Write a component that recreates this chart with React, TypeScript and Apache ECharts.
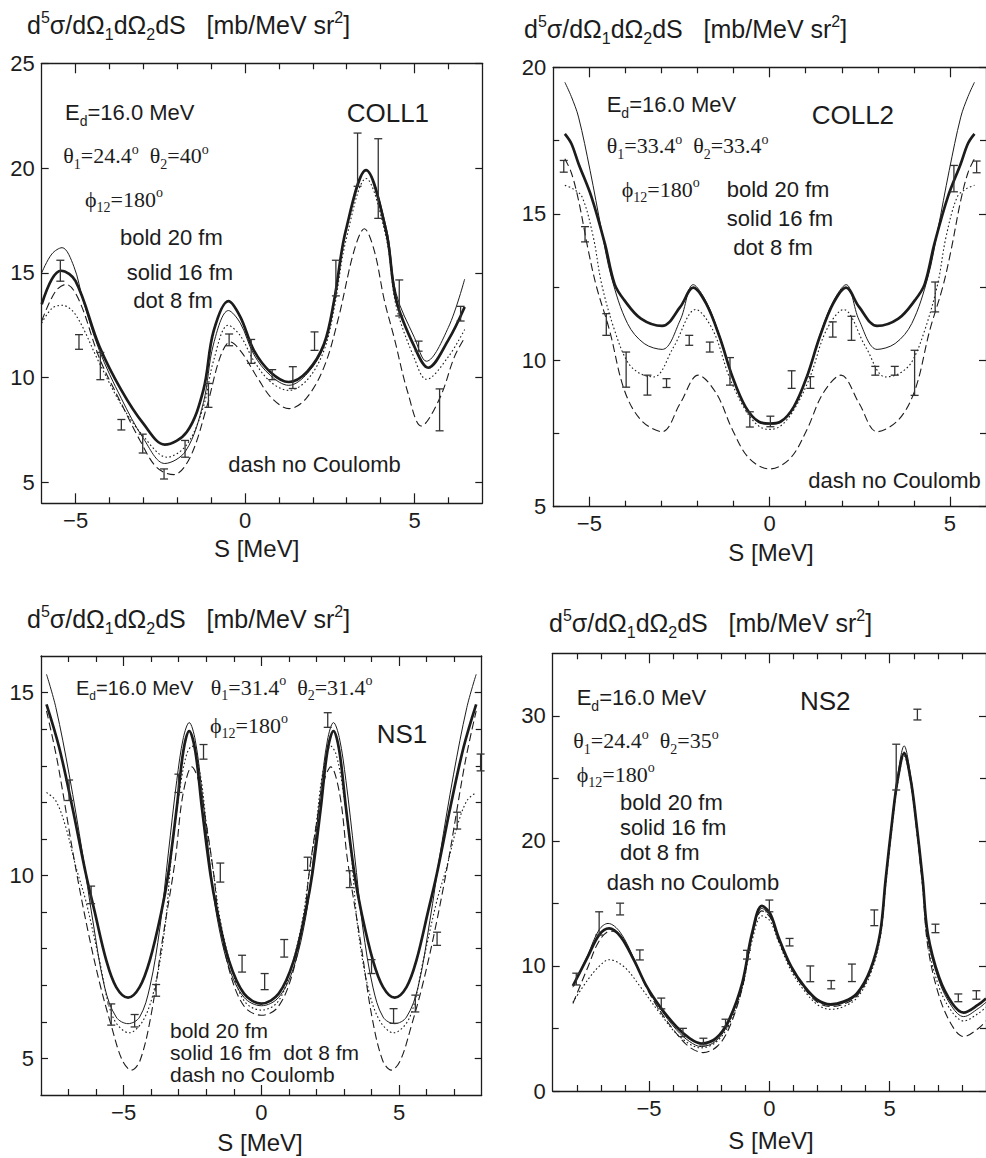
import React, { useEffect, useRef } from "react";
import * as echarts from "echarts";

// ================= COLL1 =================
const coll1XRange = [-6, 7];
const coll1YRange = [4, 25];
const coll1XMajor = [-5, 0, 5];
const coll1XMinor = [-4, -3, -2, -1, 1, 2, 3, 4, 6];
const coll1YMajor = [5, 10, 15, 20, 25];
const coll1YMinor: number[] = [];
const coll1Bold = [[-6, 13.5], [-5.7, 14.7], [-5.43, 15.1], [-5.0, 14.6], [-4.3, 11.5], [-3.65, 9.4], [-3.0, 7.8], [-2.37, 6.8], [-1.72, 7.4], [-1.23, 9.4], [-0.93, 12.2], [-0.49, 13.65], [-0.14, 12.9], [0.26, 11.3], [0.75, 10.26], [1.29, 9.79], [1.84, 10.3], [2.33, 11.6], [2.63, 13.7], [2.97, 17.0], [3.57, 19.9], [4.16, 17.0], [4.46, 13.7], [5.0, 11.46], [5.4, 10.47], [6.0, 11.8], [6.48, 13.37]];
const coll1Solid = [[-6, 15.0], [-5.7, 15.9], [-5.4, 16.2], [-5.05, 15.3], [-4.78, 13.7], [-4.3, 11.3], [-3.65, 9.0], [-3.0, 7.1], [-2.37, 5.9], [-1.75, 6.5], [-1.23, 8.8], [-0.93, 11.6], [-0.49, 13.2], [-0.14, 12.6], [0.26, 11.1], [0.75, 10.1], [1.29, 9.63], [1.84, 10.2], [2.33, 11.5], [2.63, 13.6], [2.97, 17.0], [3.57, 19.9], [4.16, 17.2], [4.46, 14.0], [5.0, 11.9], [5.35, 10.78], [6.0, 12.4], [6.48, 14.7]];
const coll1Dot = [[-6, 12.6], [-5.7, 13.3], [-5.4, 13.45], [-5.0, 13.0], [-4.3, 10.7], [-3.65, 8.7], [-3.0, 7.2], [-2.3, 6.2], [-1.72, 6.8], [-1.23, 8.6], [-0.93, 10.8], [-0.5, 12.5], [-0.14, 12.0], [0.26, 10.8], [0.75, 9.8], [1.29, 9.39], [1.84, 9.9], [2.33, 11.3], [2.63, 13.3], [2.97, 16.5], [3.57, 19.5], [4.16, 16.7], [4.46, 13.4], [5.0, 10.9], [5.35, 9.92], [6.0, 11.0], [6.48, 12.3]];
const coll1Dash = [[-6, 12.7], [-5.6, 14.1], [-5.28, 14.45], [-4.9, 13.7], [-4.29, 10.9], [-3.65, 8.76], [-3.1, 7.0], [-2.6, 5.7], [-2.1, 5.37], [-1.62, 6.2], [-1.13, 8.6], [-0.73, 11.0], [-0.44, 11.7], [-0.1, 11.2], [0.4, 9.9], [0.8, 9.0], [1.3, 8.52], [1.8, 9.0], [2.33, 10.5], [2.75, 12.8], [3.22, 16.07], [3.52, 17.1], [3.81, 16.07], [4.11, 13.69], [4.4, 11.9], [4.8, 9.3], [5.2, 7.69], [5.74, 9.0], [6.18, 11.0], [6.48, 11.9]];
const coll1Data = [[-5.45, 15.1, 0.5], [-4.9, 11.7, 0.35], [-4.27, 10.55, 0.65], [-3.65, 7.75, 0.25], [-3.02, 6.85, 0.45], [-2.39, 5.4, 0.24], [-1.77, 6.6, 0.4], [-1.08, 9.15, 0.57], [-0.47, 11.8, 0.28], [0.18, 11.25, 0.57], [0.8, 10.14, 0.24], [1.41, 10.0, 0.52], [2.05, 11.74, 0.44], [2.68, 14.75, 0.85], [3.32, 20.4, 1.27], [3.93, 19.5, 1.9], [4.55, 13.8, 0.86], [5.12, 11.5, 0.24], [5.74, 8.46, 1.0], [6.36, 13.05, 0.35]];

// ================= COLL2 =================
const coll2XRange = [-6, 6];
const coll2YRange = [5, 20];
const coll2XMajor = [-5, 0, 5];
const coll2XMinor = [-4, -3, -2, -1, 1, 2, 3, 4];
const coll2YMajor = [5, 10, 15, 20];
const coll2YMinor = [7.5, 12.5, 17.5];
const coll2Bold = [[-5.68, 17.73], [-5.5, 17.4], [-5.3, 16.71], [-4.94, 15.57], [-4.57, 13.98], [-4.3, 12.6], [-4.03, 12.05], [-3.57, 11.42], [-2.98, 11.17], [-2.48, 11.82], [-2.12, 12.48], [-1.76, 11.93], [-1.39, 10.8], [-1.03, 9.43], [-0.67, 8.41], [-0.3, 7.9], [0, 7.84], [0.3, 7.9], [0.67, 8.41], [1.03, 9.43], [1.39, 10.8], [1.76, 11.93], [2.12, 12.48], [2.48, 11.82], [2.98, 11.17], [3.57, 11.42], [4.03, 12.05], [4.3, 12.6], [4.57, 13.98], [4.94, 15.57], [5.3, 16.71], [5.5, 17.4], [5.68, 17.73]];
const coll2Solid = [[-5.68, 19.49], [-5.5, 19.0], [-5.3, 18.3], [-4.98, 16.48], [-4.66, 14.43], [-4.39, 12.84], [-3.94, 11.25], [-3.48, 10.57], [-2.98, 10.37], [-2.48, 11.37], [-2.12, 12.58], [-1.76, 12.0], [-1.39, 10.85], [-1.03, 9.45], [-0.67, 8.42], [-0.3, 7.88], [0, 7.82], [0.3, 7.88], [0.67, 8.42], [1.03, 9.45], [1.39, 10.85], [1.76, 12.0], [2.12, 12.58], [2.48, 11.37], [2.98, 10.37], [3.48, 10.57], [3.94, 11.25], [4.39, 12.84], [4.66, 14.43], [4.98, 16.48], [5.3, 18.3], [5.5, 19.0], [5.68, 19.49]];
const coll2Dot = [[-5.68, 15.97], [-5.45, 15.85], [-5.2, 15.57], [-4.89, 14.2], [-4.66, 12.6], [-4.3, 11.02], [-3.94, 9.94], [-3.6, 9.55], [-3.21, 9.43], [-2.66, 10.46], [-2.05, 11.73], [-1.57, 11.02], [-1.12, 9.43], [-0.67, 8.3], [-0.3, 7.75], [0, 7.64], [0.3, 7.75], [0.67, 8.3], [1.12, 9.43], [1.57, 11.02], [2.05, 11.73], [2.66, 10.46], [3.21, 9.43], [3.6, 9.55], [3.94, 9.94], [4.3, 11.02], [4.66, 12.6], [4.89, 14.2], [5.2, 15.57], [5.45, 15.85], [5.68, 15.97]];
const coll2Dash = [[-5.68, 16.88], [-5.5, 16.4], [-5.3, 15.46], [-5.03, 13.75], [-4.8, 12.5], [-4.44, 11.02], [-4.03, 8.98], [-3.57, 7.96], [-2.98, 7.56], [-2.48, 8.53], [-1.98, 9.49], [-1.48, 8.87], [-1.03, 7.62], [-0.57, 6.65], [0, 6.29], [0.57, 6.65], [1.03, 7.62], [1.48, 8.87], [1.98, 9.49], [2.48, 8.53], [2.98, 7.56], [3.57, 7.96], [4.03, 8.98], [4.44, 11.02], [4.8, 12.5], [5.03, 13.75], [5.3, 15.46], [5.5, 16.4], [5.68, 16.88]];
const coll2Data = [[-5.71, 16.62, 0.2], [-5.12, 14.3, 0.26], [-4.53, 11.22, 0.37], [-3.98, 9.68, 0.6], [-3.39, 9.15, 0.34], [-2.86, 9.22, 0.15], [-2.23, 10.68, 0.17], [-1.66, 10.45, 0.17], [-1.1, 9.62, 0.47], [-0.55, 7.98, 0.26], [0.02, 7.91, 0.18], [0.61, 9.34, 0.3], [1.13, 9.24, 0.2], [1.75, 11.05, 0.26], [2.27, 11.09, 0.41], [2.93, 9.64, 0.15], [3.47, 9.64, 0.15], [4.02, 9.57, 0.77], [4.59, 12.16, 0.51], [5.11, 16.2, 0.45], [5.74, 16.6, 0.2]];

// ================= NS1 =================
const ns1XRange = [-8, 8];
const ns1YRange = [4, 16];
const ns1XMajor = [-5, 0, 5];
const ns1XMinor = [-7, -6, -4, -3, -2, -1, 1, 2, 3, 4, 6, 7];
const ns1YMajor = [5, 10, 15];
const ns1YMinor = [6, 7, 8, 9, 11, 12, 13, 14];
const ns1Bold = [[-7.8, 14.68], [-7.34, 13.5], [-6.86, 11.86], [-6.37, 10.04], [-6.06, 9.04], [-5.63, 7.68], [-5.27, 6.95], [-4.84, 6.66], [-4.42, 6.95], [-4.05, 7.68], [-3.62, 9.04], [-3.38, 10.04], [-3.07, 11.86], [-2.83, 13.41], [-2.62, 13.95], [-2.4, 13.41], [-2.16, 11.86], [-1.85, 10.04], [-1.61, 9.04], [-1.18, 7.68], [-0.63, 6.77], [0, 6.5], [0.63, 6.77], [1.18, 7.68], [1.61, 9.04], [1.85, 10.04], [2.16, 11.86], [2.4, 13.41], [2.62, 13.95], [2.83, 13.41], [3.07, 11.86], [3.38, 10.04], [3.62, 9.04], [4.05, 7.68], [4.42, 6.95], [4.84, 6.66], [5.27, 6.95], [5.63, 7.68], [6.06, 9.04], [6.37, 10.04], [6.86, 11.86], [7.34, 13.5], [7.8, 14.68]];
const ns1Solid = [[-7.8, 15.5], [-7.46, 14.59], [-6.98, 12.77], [-6.49, 10.59], [-6.12, 8.77], [-5.69, 6.95], [-5.27, 6.13], [-4.84, 5.95], [-4.42, 6.13], [-4.05, 6.95], [-3.68, 8.59], [-3.38, 10.59], [-3.07, 12.6], [-2.83, 13.77], [-2.62, 14.18], [-2.4, 13.7], [-2.16, 12.32], [-1.85, 10.23], [-1.61, 8.86], [-1.18, 7.5], [-0.63, 6.67], [0, 6.44], [0.63, 6.67], [1.18, 7.5], [1.61, 8.86], [1.85, 10.23], [2.16, 12.32], [2.4, 13.7], [2.62, 14.18], [2.83, 13.77], [3.07, 12.6], [3.38, 10.59], [3.68, 8.59], [4.05, 6.95], [4.42, 6.13], [4.84, 5.95], [5.27, 6.13], [5.69, 6.95], [6.12, 8.77], [6.49, 10.59], [6.98, 12.77], [7.46, 14.59], [7.8, 15.5]];
const ns1Dot = [[-7.8, 12.27], [-7.46, 12.04], [-7.1, 11.32], [-6.73, 10.23], [-6.37, 9.3], [-5.88, 7.68], [-5.39, 6.13], [-4.8, 5.7], [-4.29, 6.04], [-3.87, 6.95], [-3.5, 8.59], [-3.26, 10.59], [-2.95, 12.41], [-2.71, 13.32], [-2.52, 13.54], [-2.22, 12.77], [-1.98, 11.32], [-1.73, 10.04], [-1.49, 8.77], [-1.06, 7.41], [-0.6, 6.55], [0, 6.32], [0.6, 6.55], [1.06, 7.41], [1.49, 8.77], [1.73, 10.04], [1.98, 11.32], [2.22, 12.77], [2.52, 13.54], [2.71, 13.32], [2.95, 12.41], [3.26, 10.59], [3.5, 8.59], [3.87, 6.95], [4.29, 6.04], [4.8, 5.7], [5.39, 6.13], [5.88, 7.68], [6.37, 9.3], [6.73, 10.23], [7.1, 11.32], [7.46, 12.04], [7.8, 12.27]];
const ns1Dash = [[-7.8, 14.5], [-7.4, 13.1], [-6.79, 10.41], [-6.3, 8.5], [-5.85, 7.0], [-5.45, 5.9], [-5.05, 4.95], [-4.72, 4.68], [-4.4, 4.95], [-4.0, 6.2], [-3.62, 8.1], [-3.13, 10.41], [-2.85, 12.2], [-2.52, 12.97], [-2.28, 12.59], [-1.98, 11.32], [-1.73, 10.04], [-1.55, 8.86], [-1.13, 7.32], [-0.6, 6.4], [0, 6.18], [0.6, 6.4], [1.13, 7.32], [1.55, 8.86], [1.73, 10.04], [1.98, 11.32], [2.28, 12.59], [2.52, 12.97], [2.85, 12.2], [3.13, 10.41], [3.62, 8.1], [4.0, 6.2], [4.4, 4.95], [4.72, 4.68], [5.05, 4.95], [5.45, 5.9], [5.85, 7.0], [6.3, 8.5], [6.79, 10.41], [7.4, 13.1], [7.8, 14.5]];
const ns1Data = [[-6.98, 12.33, 0.28], [-6.18, 9.47, 0.24], [-5.45, 6.2, 0.29], [-4.6, 6.03, 0.17], [-3.82, 6.86, 0.16], [-3.01, 12.52, 0.25], [-2.1, 13.38, 0.2], [-1.49, 10.08, 0.26], [-0.7, 7.59, 0.23], [0.12, 7.1, 0.22], [0.83, 8.01, 0.24], [1.68, 10.32, 0.18], [2.41, 14.25, 0.2], [3.21, 9.9, 0.23], [4.0, 7.51, 0.19], [4.8, 6.16, 0.2], [5.59, 6.5, 0.23], [6.38, 8.27, 0.18], [7.11, 11.5, 0.23], [7.96, 13.09, 0.23]];

// ================= NS2 =================
const ns2XRange = [-9, 9];
const ns2YRange = [0, 35];
const ns2XMajor = [-5, 0, 5];
const ns2XMinor = [-8, -7, -6, -4, -3, -2, -1, 1, 2, 3, 4, 6, 7, 8];
const ns2YMajor = [0, 10, 20, 30];
const ns2YMinor = [5, 15, 25];
const ns2Bold = [[-8.16, 8.4], [-7.54, 10.74], [-7.07, 12.48], [-6.66, 13.0], [-6.18, 12.35], [-5.63, 10.48], [-5.09, 8.34], [-4.54, 6.74], [-3.86, 5.14], [-3.31, 4.21], [-2.83, 3.8], [-2.22, 4.21], [-1.68, 5.68], [-1.13, 8.61], [-0.72, 12.6], [-0.31, 14.8], [0.03, 14.2], [0.37, 12.35], [0.91, 9.94], [1.46, 8.34], [2.0, 7.28], [2.54, 6.93], [3.09, 7.15], [3.64, 7.81], [4.19, 9.68], [4.6, 12.6], [4.83, 16.9], [5.12, 21.9], [5.33, 24.9], [5.6, 27.0], [5.87, 24.9], [6.08, 21.9], [6.37, 16.9], [6.58, 12.6], [7.05, 9.1], [7.6, 7.0], [8.07, 6.27], [8.68, 6.9], [9.0, 7.4]];
const ns2Solid = [[-8.16, 8.3], [-7.54, 10.9], [-7.07, 12.9], [-6.7, 13.4], [-6.2, 12.7], [-5.63, 10.6], [-5.09, 8.3], [-4.54, 6.6], [-3.86, 4.9], [-3.31, 3.95], [-2.83, 3.55], [-2.22, 4.0], [-1.68, 5.5], [-1.13, 8.5], [-0.72, 12.4], [-0.31, 14.6], [0.03, 14.0], [0.37, 12.2], [0.91, 9.85], [1.46, 8.25], [2.0, 7.2], [2.54, 6.85], [3.09, 7.05], [3.64, 7.7], [4.19, 9.6], [4.6, 12.6], [4.83, 16.9], [5.12, 22.0], [5.33, 25.2], [5.6, 27.6], [5.87, 25.2], [6.08, 22.0], [6.37, 16.9], [6.58, 12.4], [7.05, 8.8], [7.6, 6.7], [8.07, 5.95], [8.68, 6.6], [9.0, 7.1]];
const ns2Dot = [[-8.16, 7.1], [-7.54, 8.9], [-7.0, 10.1], [-6.66, 10.5], [-6.04, 9.94], [-5.36, 8.34], [-4.54, 6.2], [-3.72, 4.34], [-2.83, 3.45], [-2.22, 3.9], [-1.68, 5.3], [-1.13, 8.2], [-0.72, 12.0], [-0.31, 14.0], [0.03, 13.6], [0.37, 12.0], [0.91, 9.6], [1.46, 8.0], [2.0, 6.9], [2.54, 6.53], [3.09, 6.75], [3.64, 7.45], [4.19, 9.3], [4.6, 12.2], [4.83, 16.4], [5.12, 21.5], [5.33, 24.6], [5.6, 26.8], [5.87, 24.6], [6.08, 21.5], [6.37, 16.4], [6.58, 11.9], [7.05, 8.3], [7.6, 6.3], [8.07, 5.6], [8.68, 6.2], [9.0, 6.7]];
const ns2Dash = [[-8.16, 7.0], [-7.54, 9.9], [-7.07, 12.0], [-6.6, 12.8], [-6.18, 12.4], [-5.63, 10.5], [-5.09, 8.2], [-4.54, 6.4], [-3.86, 4.6], [-3.31, 3.5], [-2.75, 3.07], [-2.15, 3.6], [-1.68, 5.0], [-1.13, 8.2], [-0.72, 12.3], [-0.31, 14.4], [0.03, 13.9], [0.37, 12.1], [0.91, 9.8], [1.46, 8.2], [2.0, 7.1], [2.54, 6.75], [3.09, 6.95], [3.64, 7.6], [4.19, 9.5], [4.6, 12.4], [4.83, 16.6], [5.12, 21.8], [5.33, 24.9], [5.6, 27.1], [5.87, 24.8], [6.08, 21.6], [6.37, 16.3], [6.58, 11.6], [7.05, 7.6], [7.6, 5.2], [8.07, 4.35], [8.68, 5.0], [9.0, 5.6]];
const ns2Data = [[-8.02, 8.95, 0.47], [-7.07, 13.4, 0.93], [-6.2, 14.55, 0.47], [-5.38, 10.88, 0.4], [-4.49, 7.0, 0.43], [-3.59, 4.68, 0.33], [-2.74, 3.95, 0.27], [-1.82, 5.44, 0.3], [-0.93, 10.9, 0.35], [0.0, 14.8, 0.47], [0.84, 11.9, 0.3], [1.7, 9.37, 0.63], [2.57, 8.5, 0.33], [3.43, 9.45, 0.7], [4.36, 13.85, 0.63], [5.27, 25.9, 1.83], [6.15, 30.1, 0.43], [6.9, 13.0, 0.34], [7.85, 7.45, 0.31], [8.6, 7.68, 0.34]];

// ================= styling / layout =================
const SANS = '"Liberation Sans", Arial, Helvetica, sans-serif';
const SERIF = '"Liberation Serif", "Times New Roman", "DejaVu Serif", serif';
const INK = "#1c1c1c";
const BAR = "#333333";

const GRIDS = [
  { left: 41.7, top: 63.3, width: 440.6, height: 440 },
  { left: 553.3, top: 67.3, width: 439.4, height: 439.4 },
  { left: 41, top: 656, width: 440.7, height: 439 },
  { left: 552.7, top: 653.3, width: 440, height: 437.7 },
];

const PANELS = [
  { xr: coll1XRange, yr: coll1YRange, xMaj: coll1XMajor, xMin: coll1XMinor, yMaj: coll1YMajor, yMin: coll1YMinor, bold: coll1Bold, solid: coll1Solid, dot: coll1Dot, dash: coll1Dash, pts: coll1Data },
  { xr: coll2XRange, yr: coll2YRange, xMaj: coll2XMajor, xMin: coll2XMinor, yMaj: coll2YMajor, yMin: coll2YMinor, bold: coll2Bold, solid: coll2Solid, dot: coll2Dot, dash: coll2Dash, pts: coll2Data },
  { xr: ns1XRange, yr: ns1YRange, xMaj: ns1XMajor, xMin: ns1XMinor, yMaj: ns1YMajor, yMin: ns1YMinor, bold: ns1Bold, solid: ns1Solid, dot: ns1Dot, dash: ns1Dash, pts: ns1Data },
  { xr: ns2XRange, yr: ns2YRange, xMaj: ns2XMajor, xMin: ns2XMinor, yMaj: ns2YMajor, yMin: ns2YMinor, bold: ns2Bold, solid: ns2Solid, dot: ns2Dot, dash: ns2Dash, pts: ns2Data },
];

type Kind = "n" | "b" | "p";
type Seg = [string, Kind];

let measureCtx: CanvasRenderingContext2D | null = null;
function fontStr(size: number, serif: boolean) {
  return `${size}px ${serif ? SERIF : SANS}`;
}
function measure(t: string, size: number, serif: boolean) {
  if (!measureCtx) measureCtx = document.createElement("canvas").getContext("2d");
  measureCtx!.font = fontStr(size, serif);
  return measureCtx!.measureText(t).width;
}

function richLine(x: number, baseline: number, size: number, serif: boolean, segs: Seg[]) {
  const out: any[] = [];
  let cx = x;
  for (const [t, k] of segs) {
    const s = k === "n" ? size : Math.round(size * 0.62);
    const dy = k === "b" ? size * 0.26 : k === "p" ? -size * 0.42 : 0;
    const cy = baseline + dy - 0.35 * s;
    const parts = t.split(/( +)/);
    for (const part of parts) {
      if (!part) continue;
      if (/^ +$/.test(part)) {
        cx += measure(part, s, serif);
        continue;
      }
      out.push({
        type: "text",
        x: cx,
        y: cy,
        silent: true,
        style: { text: part, font: fontStr(s, serif), fill: INK, align: "left", verticalAlign: "middle" },
      });
      cx += measure(part, s, serif);
    }
  }
  return out;
}

function centerText(cx: number, baseline: number, size: number, text: string) {
  return {
    type: "text",
    x: cx,
    y: baseline - 0.35 * size,
    silent: true,
    style: { text, font: fontStr(size, false), fill: INK, align: "center", verticalAlign: "middle" },
  };
}

const TITLE: Seg[] = [["d", "n"], ["5", "p"], ["σ/dΩ", "n"], ["1", "b"], ["dΩ", "n"], ["2", "b"], ["dS   [mb/MeV sr", "n"], ["2", "p"], ["]", "n"]];
const ED: Seg[] = [["E", "n"], ["d", "b"], ["=16.0 MeV", "n"]];
const theta = (a: string, b: string): Seg[] => [["θ", "n"], ["1", "b"], ["=" + a, "n"], ["o", "p"], ["  θ", "n"], ["2", "b"], ["=" + b, "n"], ["o", "p"]];
const PHI: Seg[] = [["\u03D5", "n"], ["12", "b"], ["=180", "n"], ["o", "p"]];

function buildGraphics() {
  const g: any[] = [];
  const T = 25;
  const A = 22;
  const L = 24;
  // Panel 1
  g.push(...richLine(27, 33.3, T, false, TITLE));
  g.push(...richLine(65, 120, A, false, ED));
  g.push(...richLine(346.7, 121.7, 26, false, [["COLL1", "n"]]));
  g.push(...richLine(63.3, 163.3, T - 3, true, theta("24.4", "40")));
  g.push(...richLine(85, 206.7, T - 3, true, PHI));
  g.push(...richLine(120, 245, A, false, [["bold 20 fm", "n"]]));
  g.push(...richLine(126.7, 280, A, false, [["solid 16 fm", "n"]]));
  g.push(...richLine(133.3, 308, A, false, [["dot 8 fm", "n"]]));
  g.push(...richLine(228.3, 471.7, A, false, [["dash no Coulomb", "n"]]));
  g.push(centerText(256.7, 557, L, "S [MeV]"));
  // Panel 2
  g.push(...richLine(524, 37.5, T, false, TITLE));
  g.push(...richLine(606.7, 111.7, A, false, ED));
  g.push(...richLine(811.7, 124, 26, false, [["COLL2", "n"]]));
  g.push(...richLine(606.7, 153.3, T - 3, true, theta("33.4", "33.4")));
  g.push(...richLine(621.7, 196.7, T - 3, true, PHI));
  g.push(...richLine(726.7, 196.7, A, false, [["bold 20 fm", "n"]]));
  g.push(...richLine(726.7, 225.7, A, false, [["solid 16 fm", "n"]]));
  g.push(...richLine(733.3, 255, A, false, [["dot 8 fm", "n"]]));
  g.push(...richLine(808.3, 488.3, A, false, [["dash no Coulomb", "n"]]));
  g.push(centerText(771, 561, L, "S [MeV]"));
  // Panel 3
  g.push(...richLine(27, 628, T, false, TITLE));
  g.push(...richLine(76, 695, 20, false, ED));
  g.push(...richLine(210.7, 695, T - 3, true, theta("31.4", "31.4")));
  g.push(...richLine(210, 732.7, T - 3, true, PHI));
  g.push(...richLine(376.7, 743.3, 26, false, [["NS1", "n"]]));
  g.push(...richLine(170, 1038.3, 21, false, [["bold 20 fm", "n"]]));
  g.push(...richLine(170, 1060, 21, false, [["solid 16 fm  dot 8 fm", "n"]]));
  g.push(...richLine(170, 1081.7, 21, false, [["dash no Coulomb", "n"]]));
  g.push(centerText(260, 1151, L, "S [MeV]"));
  // Panel 4
  g.push(...richLine(549, 632, T, false, TITLE));
  g.push(...richLine(576.7, 705, A, false, ED));
  g.push(...richLine(800, 710, 26, false, [["NS2", "n"]]));
  g.push(...richLine(573.3, 748.3, T - 3, true, theta("24.4", "35")));
  g.push(...richLine(576.7, 781.7, T - 3, true, PHI));
  g.push(...richLine(620, 810, A, false, [["bold 20 fm", "n"]]));
  g.push(...richLine(620, 835, A, false, [["solid 16 fm", "n"]]));
  g.push(...richLine(620, 860, A, false, [["dot 8 fm", "n"]]));
  g.push(...richLine(606.7, 890, A, false, [["dash no Coulomb", "n"]]));
  g.push(centerText(771, 1149, L, "S [MeV]"));
  return g;
}

const fmt = (v: number) => (v < 0 ? "\u2212" + Math.abs(v) : String(v));

function buildOption() {
  const xAxis: any[] = [];
  const yAxis: any[] = [];
  const series: any[] = [];
  PANELS.forEach((p, gi) => {
    const lineStyle = { color: INK, width: 1.3 };
    const tickStyle = { color: INK, width: 1.2 };
    const xBase = { type: "value", gridIndex: gi, min: p.xr[0], max: p.xr[1], splitLine: { show: false } };
    const yBase = { type: "value", gridIndex: gi, min: p.yr[0], max: p.yr[1], splitLine: { show: false } };
    const lbl = { fontSize: 22, fontFamily: SANS, color: INK };
    xAxis.push({
      ...xBase, position: "bottom",
      axisLine: { show: true, onZero: false, lineStyle },
      axisTick: { show: true, inside: true, length: 10, customValues: p.xMaj, lineStyle: tickStyle },
      axisLabel: { show: true, customValues: p.xMaj, formatter: fmt, margin: 6, ...lbl },
    });
    xAxis.push({
      ...xBase, position: "bottom",
      axisLine: { show: false, onZero: false },
      axisTick: { show: true, inside: true, length: 6, customValues: p.xMin, lineStyle: tickStyle },
      axisLabel: { show: false },
    });
    xAxis.push({
      ...xBase, position: "top",
      axisLine: { show: true, onZero: false, lineStyle },
      axisTick: { show: true, inside: true, length: 10, customValues: p.xMaj, lineStyle: tickStyle },
      axisLabel: { show: false },
    });
    xAxis.push({
      ...xBase, position: "top",
      axisLine: { show: false, onZero: false },
      axisTick: { show: true, inside: true, length: 6, customValues: p.xMin, lineStyle: tickStyle },
      axisLabel: { show: false },
    });
    yAxis.push({
      ...yBase, position: "left",
      axisLine: { show: true, onZero: false, lineStyle },
      axisTick: { show: true, inside: true, length: 7, customValues: p.yMaj, lineStyle: tickStyle },
      axisLabel: { show: true, customValues: p.yMaj, formatter: fmt, margin: 7, ...lbl },
    });
    yAxis.push({
      ...yBase, position: "left",
      axisLine: { show: false, onZero: false },
      axisTick: { show: p.yMin.length > 0, inside: true, length: 6, customValues: p.yMin, lineStyle: tickStyle },
      axisLabel: { show: false },
    });
    yAxis.push({
      ...yBase, position: "right",
      axisLine: { show: true, onZero: false, lineStyle },
      axisTick: { show: true, inside: true, length: 7, customValues: p.yMaj, lineStyle: tickStyle },
      axisLabel: { show: false },
    });
    yAxis.push({
      ...yBase, position: "right",
      axisLine: { show: false, onZero: false },
      axisTick: { show: p.yMin.length > 0, inside: true, length: 6, customValues: p.yMin, lineStyle: tickStyle },
      axisLabel: { show: false },
    });

    const ai = gi * 4;
    const mkLine = (data: number[][], width: number, type: any) => ({
      type: "line",
      xAxisIndex: ai,
      yAxisIndex: ai,
      data,
      smooth: 0.35,
      showSymbol: false,
      symbol: "none",
      silent: true,
      lineStyle: { color: INK, width, type, cap: "butt" },
      z: 3,
    });
    series.push(mkLine(p.dash, 1.1, [8, 4]));
    series.push(mkLine(p.dot, 1.1, [1.6, 2.4]));
    series.push(mkLine(p.solid, 1.0, "solid"));
    series.push(mkLine(p.bold, 2.7, "solid"));
    series.push({
      type: "custom",
      xAxisIndex: ai,
      yAxisIndex: ai,
      data: p.pts,
      encode: { x: 0, y: 1 },
      silent: true,
      z: 4,
      renderItem: (_params: any, api: any) => {
        const x = api.value(0);
        const y = api.value(1);
        const e = api.value(2);
        const a = api.coord([x, y + e]);
        const b = api.coord([x, y - e]);
        const w = 4;
        const st = { stroke: BAR, lineWidth: 1.3 };
        return {
          type: "group",
          children: [
            { type: "line", shape: { x1: a[0], y1: a[1], x2: b[0], y2: b[1] }, style: st },
            { type: "line", shape: { x1: a[0] - w, y1: a[1], x2: a[0] + w, y2: a[1] }, style: st },
            { type: "line", shape: { x1: b[0] - w, y1: b[1], x2: b[0] + w, y2: b[1] }, style: st },
          ],
        };
      },
    });
  });

  return {
    animation: false,
    backgroundColor: "#ffffff",
    grid: GRIDS.map((g) => ({ ...g, containLabel: false })),
    xAxis,
    yAxis,
    series,
    graphic: { elements: buildGraphics() },
  };
}

export default function App() {
  const ref = useRef<HTMLDivElement>(null);
  useEffect(() => {
    if (!ref.current) return;
    const chart = echarts.init(ref.current, undefined, { renderer: "svg" });
    chart.setOption(buildOption() as any);
    return () => chart.dispose();
  }, []);
  return (
    <div
      ref={ref}
      style={{ position: "absolute", left: 0, top: 0, width: 986, height: 1158, background: "#fff" }}
    />
  );
}
